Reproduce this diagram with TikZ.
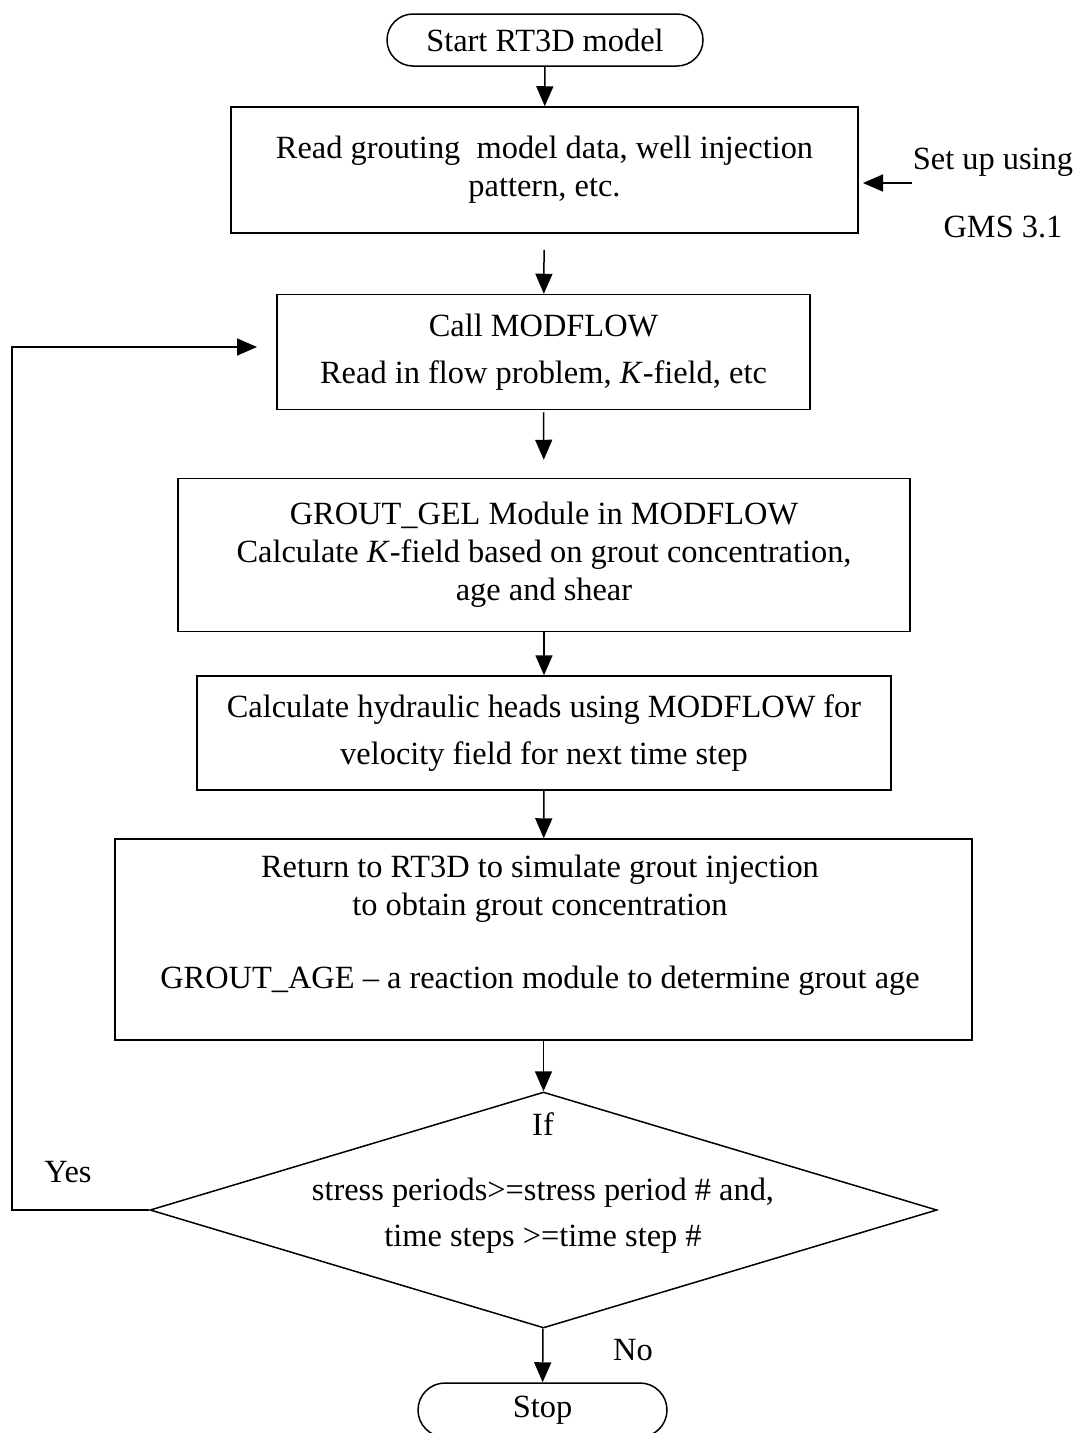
\documentclass[tikz,border=0pt]{standalone}
\usepackage{fontspec}
\setmainfont{Liberation Serif}
\usetikzlibrary{arrows.meta,shapes.geometric,shapes.misc}
\begin{document}
\begin{tikzpicture}[x=1pt,y=-1pt,
  every node/.style={font=\fontsize{32.4}{38}\selectfont, inner sep=0pt, align=center},
  box/.style={draw, line width=1.5pt},
  term/.style={draw, line width=1.5pt, rounded rectangle},
  dia/.style={draw, line width=1.5pt, diamond},
  conn/.style={line width=1.5pt, -{Triangle[length=20pt,width=17pt]}},
  plain/.style={line width=1.5pt}]
\useasboundingbox (0,0) rectangle (1080,1433);
\begin{scope}
\clip (0,0) rectangle (1080,1433);
\node[term, minimum width=316, minimum height=52] (start) at (545,40) {Start RT3D model};
\node[box, minimum width=627, minimum height=126] (b1) at (544.5,170) {Read grouting\ \ model data, well injection\\pattern, etc.};
\node[box, minimum width=533, minimum height=115] (b2) at (543.5,352) {Call MODFLOW\\[9pt]Read in flow problem, \textit{K}-field, etc};
\node[box, minimum width=732, minimum height=153] (b3) at (544,555) {GROUT\_GEL Module in MODFLOW\\Calculate \textit{K}-field based on grout concentration,\\age and shear};
\node[box, minimum width=694, minimum height=114] (b4) at (544,733) {Calculate hydraulic heads using MODFLOW for\\[9pt]velocity field for next time step};
\node[box, minimum width=857, minimum height=201] (b5) at (543.5,939.5) {};
\node (b5t) at (540,925) {Return to RT3D to simulate grout injection\\to obtain grout concentration\\[35pt]GROUT\_AGE -- a reaction module to determine grout age};
\node[dia, minimum width=787, minimum height=236] (dec) at (543.5,1210) {};
\node (dect) at (543,1183) {If\\[27pt]stress periods>=stress period \# and,\\[8pt]time steps >=time step \#};
\node[term, minimum width=249, minimum height=54] (stop) at (542.5,1410) {Stop};
\node (setup) at (993,162) {Set up using};
\node (gms) at (1003,227) {GMS 3.1};
\node (yes) at (68,1172) {Yes};
\node (no) at (633,1350) {No};
\coordinate (loopL) at (12,1210);
\coordinate (loopT) at (12,347);
\coordinate (loopE) at (257,347);
\coordinate (setS) at (912,183);
\coordinate (setE) at (863,183);
\draw[conn] (start) -- (b1);
\draw[conn, shorten <=16pt] (b1) -- (b2);
\draw[conn, shorten <=2pt, shorten >=18pt] (b2) -- (b3);
\draw[conn] (b3) -- (b4);
\draw[conn] (b4) -- (b5);
\draw[conn] (b5) -- (dec);
\draw[conn] (dec) -- (stop);
\draw[conn] (dec.west) -- (loopL) -- (loopT) -- (loopE);
\draw[conn] (setS) -- (setE);
\end{scope}
\end{tikzpicture}
\end{document}
